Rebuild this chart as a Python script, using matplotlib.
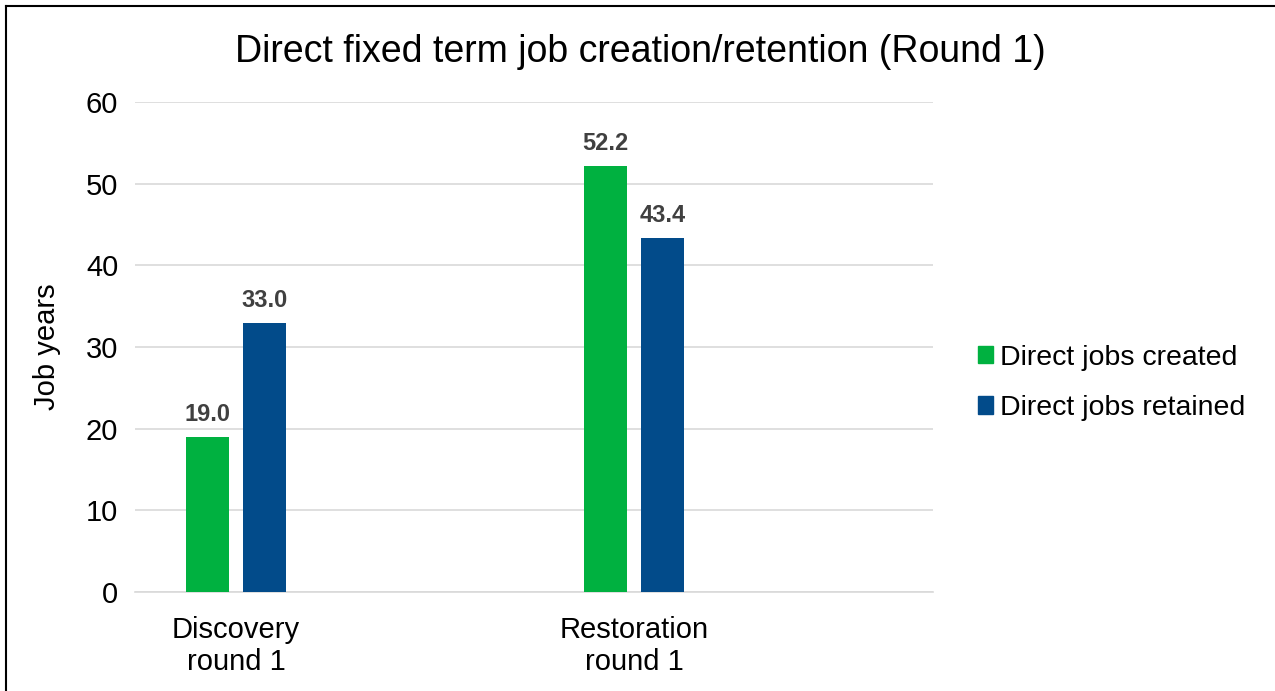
import matplotlib
matplotlib.use('Agg')
import matplotlib.pyplot as plt
from matplotlib.lines import Line2D
import numpy as np

plt.rcParams['font.family'] = ['Liberation Sans', 'DejaVu Sans']

categories = ['Discovery\nround 1', 'Restoration\nround 1']
created = [19.0, 52.2]
retained = [33.0, 43.4]
series_names = ['Direct jobs created', 'Direct jobs retained']
colors = ['#00b140', '#024b8a']

fig = plt.figure(figsize=(12.75, 6.91), dpi=100)
ax = fig.add_axes([135/1275, 1 - 592/691, (933-135)/1275, (592-102)/691])

# outer border (top and left visible only)
fig.add_artist(Line2D([6/1275, 6/1275], [0, 1 - 6/691], transform=fig.transFigure, color='black', lw=1.5))
fig.add_artist(Line2D([6/1275, 1], [1 - 6/691, 1 - 6/691], transform=fig.transFigure, color='black', lw=1.5))

x = np.arange(len(categories))
width = 0.108
offset = 0.071
b1 = ax.bar(x - offset, created, width, color=colors[0], label=series_names[0], zorder=3)
b2 = ax.bar(x + offset, retained, width, color=colors[1], label=series_names[1], zorder=3)

for bars in (b1, b2):
  for rect in bars:
    h = rect.get_height()
    ax.text(rect.get_x() + rect.get_width()/2, h + 1.3, '{:.1f}'.format(h), ha='center', va='bottom',
            fontsize=17, fontweight='bold', color='#404040')

ax.set_xlim(-0.254, 1.751)
ax.set_ylim(0, 60)
ax.set_yticks(range(0, 61, 10))
ax.set_xticks(x)
ax.set_xticklabels(categories, fontsize=21)
ax.tick_params(axis='y', labelsize=21, length=0, pad=12)
ax.tick_params(axis='x', length=0, pad=17)
ax.grid(axis='y', color='#d9d9d9', linewidth=1.2, zorder=0)
for s in ['top', 'right', 'left']:
  ax.spines[s].set_visible(False)
ax.spines['bottom'].set_color('#d9d9d9')
ax.spines['bottom'].set_linewidth(1.2)

ax.set_ylabel('Job years', fontsize=21, labelpad=18)
fig.text(0.502, 1 - 52/691, 'Direct fixed term job creation/retention (Round 1)', ha='center', va='center', fontsize=27)

handles = [plt.Rectangle((0, 0), 1, 1, color=c) for c in colors]
fig.legend(handles, series_names, loc='center left', bbox_to_anchor=(952/1275, 1 - 383/691), frameon=False,
           fontsize=20.5, handlelength=0.55, handleheight=0.55, handletextpad=0.25, labelspacing=0.85)

fig.savefig('out.png', dpi=100)
plt.close()
